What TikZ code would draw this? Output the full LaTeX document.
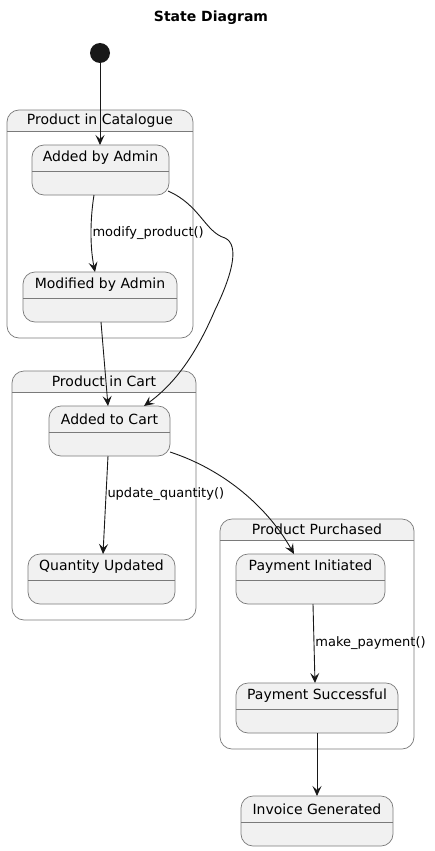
\documentclass[tikz,border=0pt]{standalone}
\usepackage{fontspec}
\setmainfont{DejaVu Sans}
\usetikzlibrary{arrows.meta}
\definecolor{statefill}{HTML}{F1F1F1}
\definecolor{edgeline}{HTML}{181818}
\definecolor{boxline}{HTML}{7A7A7A}
\tikzset{
    state box/.style={draw=boxline, fill=statefill, line width=0.7pt, rounded corners=12pt,
        inner sep=0pt, outer sep=0pt, minimum height=50pt,
        path picture={\draw[boxline, line width=0.7pt, sharp corners]
            ([yshift=-26pt]path picture bounding box.north west) -- ([yshift=-26pt]path picture bounding box.north east);}}, % 状态框, 标题下有分隔线
    group box/.style={draw=boxline, fill=white, line width=0.7pt, rounded corners=12pt,
        inner sep=0pt, outer sep=0pt,
        path picture={\fill[statefill, sharp corners] (path picture bounding box.north west)
            rectangle ([yshift=-21pt]path picture bounding box.north east);
            \draw[boxline, line width=0.7pt, sharp corners]
            ([yshift=-21pt]path picture bounding box.north west) -- ([yshift=-21pt]path picture bounding box.north east);}}, % 复合状态
    trans/.style={draw=edgeline, line width=0.9pt, -{Stealth[length=10pt, width=9pt, inset=4pt]}},
    trig/.style={font=\fontsize{13}{15}\selectfont, inner sep=1pt, anchor=west}
}

\begin{document}
\begin{tikzpicture}[x=1pt, y=-1pt, font=\fontsize{14}{17}\selectfont]
    \useasboundingbox (0,0) rectangle (434,851);

    \node[font=\bfseries\fontsize{14}{17}\selectfont] (title) at (211,18) {State Diagram};
    \node[circle, fill=edgeline, minimum size=20pt, inner sep=0pt] (start) at (100,53) {};

    % 复合状态
    \foreach \nm/\cx/\cy/\w/\h/\txt in {
        cat/100/224/186/228/{Product in Catalogue},
        cart/104/495.5/184/249/{Product in Cart},
        pur/317/634/194/230/{Product Purchased}
    } {
        \node[group box, minimum width=\w pt, minimum height=\h pt] (\nm) at (\cx,\cy) {};
        \node (\nm-name) at ([yshift=-10.5pt]\nm.north) {\txt};
    }

    % 简单状态
    \foreach \nm/\cx/\cy/\w/\txt in {
        aba/100.5/170/137/{Added by Admin},
        mba/100/297/154/{Modified by Admin},
        atc/109.5/431/121/{Added to Cart},
        qu/101.5/579/147/{Quantity Updated},
        pi/310.5/579/149/{Payment Initiated},
        ps/317/708/162/{Payment Successful},
        ig/317/821/152/{Invoice Generated}
    } {
        \node[state box, minimum width=\w pt] (\nm) at (\cx,\cy) {};
        \node (\nm-name) at ([yshift=-13pt]\nm.north) {\txt};
    }

    \draw[trans] (start) -- ([xshift=-0.5pt]aba.north);
    \draw[trans] ([xshift=-6.5pt]aba.south) .. controls +(-4,25) and +(-5,-25)
        .. node[trig, pos=0.5] {modify\_product()} ([xshift=-5pt]mba.north);
    \draw[trans] ([shift={(-1,-4)}]aba.south east) .. controls (200,205) and (205,232) .. (225,238)
        .. controls (240,245) and (232,275) .. (215,310)
        .. controls (200,345) and (180,380) .. ([xshift=34.5pt]atc.north);
    \draw[trans] ([xshift=1pt]mba.south) -- ([xshift=-1.5pt]atc.north);
    \draw[trans] ([xshift=-1.5pt]atc.south) -- node[trig, pos=0.39] {update\_quantity()} ([xshift=1.5pt]qu.north);
    \draw[trans] ([shift={(0,-4)}]atc.south east) .. controls (225,470) and (268,508) .. ([xshift=-16.5pt]pi.north);
    \draw[trans] ([xshift=2.5pt]pi.south) -- node[trig, pos=0.5] {make\_payment()} ([xshift=-2pt]ps.north);
    \draw[trans] (ps) -- (ig);

\end{tikzpicture}
\end{document}
